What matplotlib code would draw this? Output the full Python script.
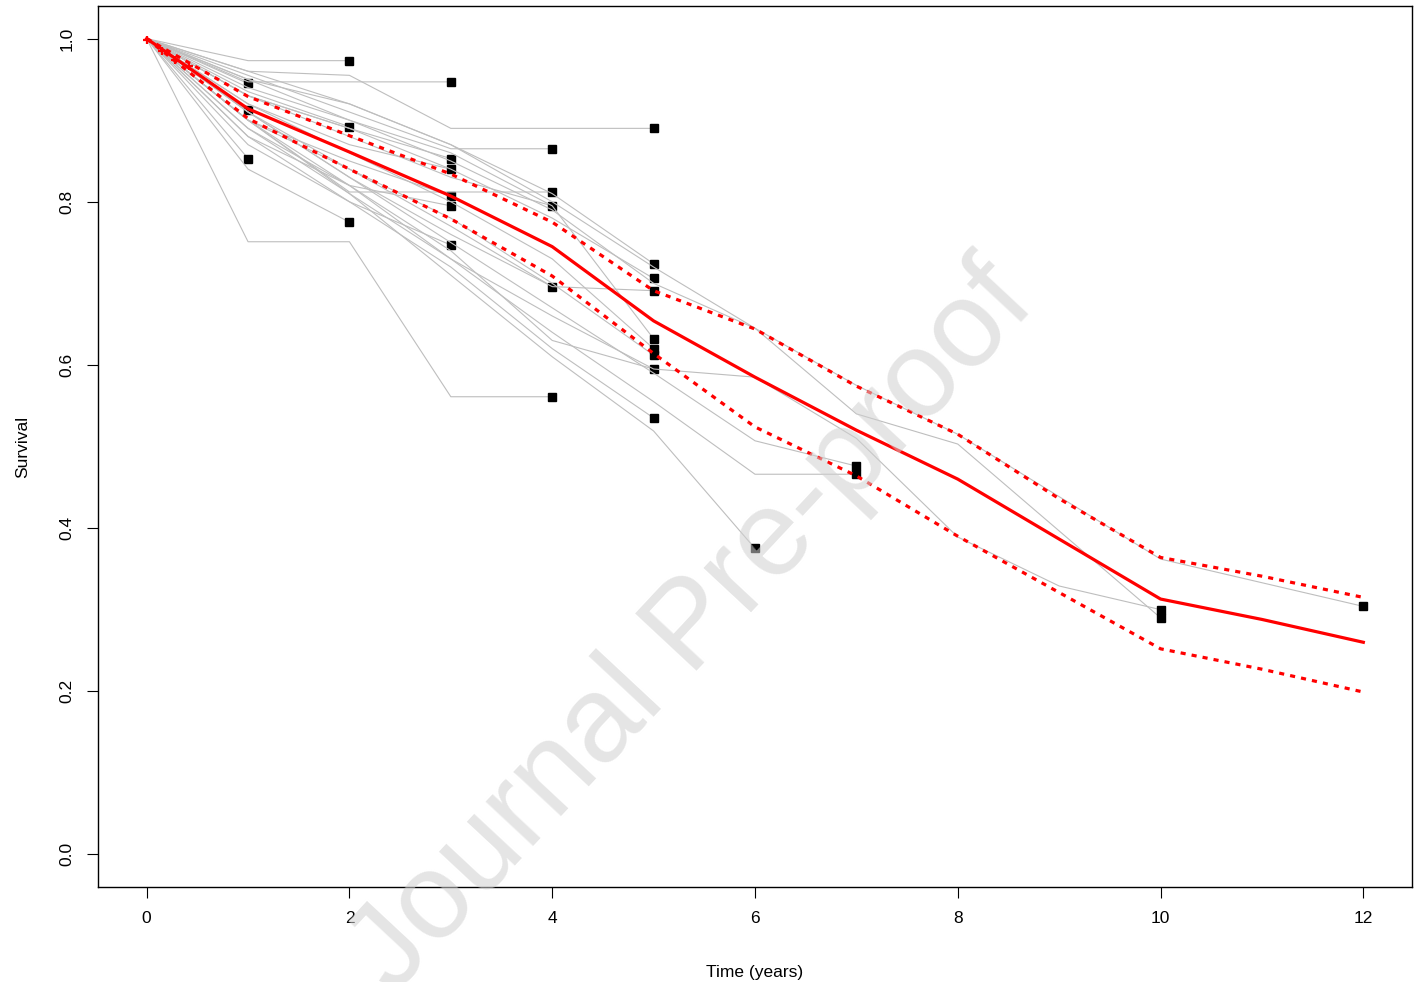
import matplotlib
matplotlib.use("Agg")
import matplotlib.pyplot as plt

plt.rcParams["font.family"] = ["Liberation Sans", "DejaVu Sans"]

# pooled survival curve with dotted confidence band
mean_t = [0, 1, 2, 3, 4, 5, 6, 7, 8, 10, 11, 12]
mean_s = [1.0, 0.914, 0.861, 0.807, 0.745, 0.654, 0.585, 0.520, 0.460, 0.313, 0.288, 0.260]
upper_t = [0, 1, 2, 3, 4, 5, 6, 7, 8, 9, 10, 11, 12]
upper_s = [1.0, 0.929, 0.881, 0.834, 0.775, 0.691, 0.644, 0.574, 0.515, 0.436, 0.364, 0.341, 0.315]
lower_t = [0, 1, 2, 3, 4, 5, 6, 7, 8, 9, 10, 11, 12]
lower_s = [1.0, 0.902, 0.840, 0.779, 0.709, 0.614, 0.524, 0.464, 0.390, 0.321, 0.252, 0.227, 0.199]
# early marks on the pooled curve
mark_t = [0, 0.15, 0.28, 0.42]
mark_s = [0.998, 0.985, 0.974, 0.967]

# individual study curves (times, survival); last point gets a square
study_t = [
    [0, 1], [0, 1], [0, 1],
    [0, 1, 2], [0, 1, 2], [0, 1, 2],
    [0, 1, 2, 3], [0, 1, 2, 3], [0, 1, 2, 3], [0, 1, 2, 3], [0, 1, 2, 3], [0, 1, 2, 3],
    [0, 1, 2, 3, 4], [0, 1, 2, 3, 4], [0, 1, 2, 3, 4], [0, 1, 2, 3, 4], [0, 1, 2, 3, 4],
    [0, 1, 2, 3, 4, 5], [0, 1, 2, 3, 4, 5], [0, 1, 2, 3, 4, 5], [0, 1, 2, 3, 4, 5],
    [0, 1, 2, 3, 4, 5], [0, 1, 2, 3, 4, 5], [0, 1, 2, 3, 4, 5], [0, 1, 2, 3, 4, 5],
    [0, 1, 2, 3, 4, 5],
    [0, 1, 2, 3, 4, 5, 6],
    [0, 1, 2, 3, 4, 5, 6, 7], [0, 1, 2, 3, 4, 5, 6, 7],
    [0, 1, 2, 3, 4, 5, 6, 7, 8, 10],
    [0, 1, 2, 3, 4, 5, 6, 7, 8, 9, 10],
    [0, 1, 2, 3, 4, 5, 6, 7, 8, 10, 12],
]
study_s = [
    [1, 0.945], [1, 0.912], [1, 0.853],
    [1, 0.973, 0.973], [1, 0.935, 0.892], [1, 0.840, 0.775],
    [1, 0.947, 0.947, 0.947], [1, 0.93, 0.89, 0.853], [1, 0.92, 0.87, 0.840],
    [1, 0.90, 0.85, 0.807], [1, 0.88, 0.82, 0.795], [1, 0.87, 0.80, 0.747],
    [1, 0.955, 0.91, 0.865, 0.865], [1, 0.90, 0.812, 0.812, 0.812],
    [1, 0.93, 0.88, 0.83, 0.795], [1, 0.91, 0.84, 0.77, 0.696], [1, 0.751, 0.751, 0.561, 0.561],
    [1, 0.96, 0.955, 0.890, 0.890, 0.890], [1, 0.95, 0.92, 0.87, 0.81, 0.724],
    [1, 0.93, 0.89, 0.84, 0.78, 0.706], [1, 0.91, 0.83, 0.76, 0.696, 0.691],
    [1, 0.94, 0.90, 0.86, 0.795, 0.632], [1, 0.92, 0.86, 0.80, 0.73, 0.620],
    [1, 0.90, 0.84, 0.78, 0.70, 0.612], [1, 0.89, 0.82, 0.74, 0.63, 0.595],
    [1, 0.88, 0.80, 0.72, 0.62, 0.535],
    [1, 0.90, 0.81, 0.71, 0.61, 0.519, 0.375],
    [1, 0.91, 0.83, 0.75, 0.67, 0.59, 0.507, 0.476],
    [1, 0.89, 0.81, 0.73, 0.64, 0.555, 0.466, 0.466],
    [1, 0.95, 0.90, 0.85, 0.79, 0.70, 0.645, 0.540, 0.503, 0.290],
    [1, 0.90, 0.82, 0.73, 0.66, 0.595, 0.585, 0.51, 0.389, 0.329, 0.300],
    [1, 0.96, 0.92, 0.87, 0.80, 0.72, 0.645, 0.575, 0.515, 0.362, 0.304],
]

xticks = [0, 2, 4, 6, 8, 10, 12]
yticks = [0.0, 0.2, 0.4, 0.6, 0.8, 1.0]

fig = plt.figure(figsize=(14.22, 9.82), dpi=100)
ax = fig.add_axes([98 / 1422, 1 - 887 / 982, (1412 - 98) / 1422, (887 - 6) / 982])

for t, s in zip(study_t, study_s):
    ax.plot(t, s, color="#BEBEBE", lw=0.8, zorder=2)
    ax.plot(t[-1], s[-1], marker="s", color="black", ms=6.2, ls="none", zorder=2)

ax.plot(mean_t, mean_s, color="red", lw=2.3, zorder=4)
ax.plot(upper_t, upper_s, color="red", lw=2.3, dashes=(1.6, 1.9), zorder=4)
ax.plot(lower_t, lower_s, color="red", lw=2.3, dashes=(1.6, 1.9), zorder=4)
ax.plot(mark_t, mark_s, color="red", marker="+", ms=6, mew=1.6, ls="none", zorder=4)

ax.set_xlim(-0.48, 12.48)
ax.set_ylim(-0.04, 1.04)
ax.set_xticks(xticks)
ax.set_xticklabels([str(v) for v in xticks])
ax.set_yticks(yticks)
ax.set_yticklabels(["%.1f" % v for v in yticks])
ax.tick_params(length=8, width=0.8, labelsize=12.5, pad=9)
for lbl in ax.get_yticklabels():
    lbl.set_rotation(90)
    lbl.set_va("center")
for sp in ax.spines.values():
    sp.set_linewidth(1.0)

ax.set_xlabel("Time (years)", fontsize=12.5, labelpad=28)
ax.set_ylabel("Survival", fontsize=12.5, labelpad=21)

fig.text(0.487, 0.36, "Journal Pre-proof", fontsize=88, color="#D0D0D0", alpha=0.55,
         rotation=47, ha="center", va="center", zorder=10)

fig.savefig("out.png", dpi=100)
